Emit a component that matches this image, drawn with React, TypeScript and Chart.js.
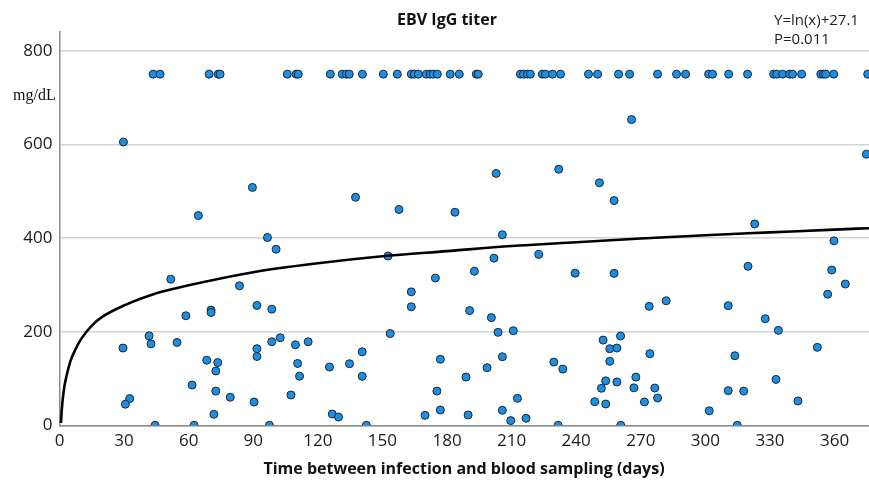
import { useEffect, useRef } from "react";
import { Chart, registerables } from "chart.js";

Chart.register(...registerables);

const xTickValues = [0, 30, 60, 90, 120, 150, 180, 210, 240, 270, 300, 330, 360];
const yTickValues = [0, 200, 400, 600, 800];

// Samples with titer capped at 750 mg/dL (top row)
const cappedTiter = 750;
const cappedDays = [
  43.5, 46.7, 69.5, 73.7, 74.6, 105.8, 109.9, 110.9, 125.8, 131.3, 133.2, 134.6, 140.7, 150.4,
  156.9, 163.4, 164.8, 166.7, 170.4, 172.2, 173.6, 175.5, 181.5, 185.7, 193.6, 194.5, 214.1,
  215.5, 217.3, 218.7, 224.3, 225.7, 229.0, 232.7, 245.7, 249.9, 259.7, 264.8, 277.8, 286.6,
  290.8, 301.5, 303.3, 310.8, 319.6, 331.7, 333.1, 335.9, 339.1, 340.5, 344.7, 353.6, 354.9,
  355.9, 359.6, 375.4,
];

// Other samples
const sampleDays = [
  29.7, 64.5, 89.6, 137.5, 157.7, 96.6, 265.7, 202.8, 231.9, 250.8, 183.7, 257.6, 205.7, 374.8,
  322.9, 359.7, 51.7, 58.7, 70.4, 70.4, 41.6, 42.5, 54.6, 29.5, 68.4, 73.5, 72.6, 61.6, 32.6,
  30.6, 72.6, 79.3, 71.7, 44.4, 62.5, 100.6, 152.6, 174.6, 83.6, 91.7, 98.6, 163.4, 163.4,
  153.6, 102.5, 98.6, 109.6, 115.5, 91.7, 91.7, 140.6, 110.6, 125.4, 134.7, 111.5, 140.6,
  176.9, 90.4, 107.5, 175.3, 126.7, 129.6, 169.8, 176.9, 97.5, 142.5, 201.8, 222.6, 192.7,
  239.5, 257.6, 190.5, 200.6, 273.9, 203.7, 210.8, 252.5, 260.6, 255.6, 258.9, 205.7, 198.6,
  229.6, 233.8, 255.6, 274.2, 188.8, 253.7, 258.9, 267.7, 251.7, 266.8, 212.7, 248.6, 253.7,
  271.7, 189.8, 205.7, 209.6, 216.7, 231.6, 260.7, 319.8, 358.7, 365.0, 356.8, 281.8, 310.6,
  327.8, 333.9, 352.0, 313.7, 276.5, 277.8, 310.6, 317.8, 332.8, 343.0, 301.8, 314.8,
];
const sampleTiters = [
  605, 448, 508, 487, 461, 401, 653, 538, 547, 518, 455, 480, 407, 579,
  430, 394, 312, 234, 246, 241, 191, 174, 177, 165, 139, 134, 116, 86, 57,
  45, 73, 60, 23.5, 0, 0, 376, 361.5, 314.5, 298, 256, 248, 285, 253,
  196, 187, 178.5, 172, 178.5, 163.6, 147, 157, 132, 124.5, 131.5, 105, 104.6,
  141, 49.8, 64.7, 73, 24, 17.7, 21.3, 32.7, 0, 0, 357, 365, 329,
  325, 324.5, 245, 230, 254, 198.5, 202, 182, 190.7, 163.6, 165, 146.5, 123,
  135, 120, 136.6, 153, 103, 95, 92.5, 103, 79, 80, 57.6, 50.4, 45.5,
  49.8, 22, 32, 10, 15, 0, 0, 339.5, 331.6, 301.7, 280, 266, 255.5,
  227.7, 202.8, 166.5, 148.6, 79.6, 58.3, 74, 73, 98, 52, 31, 0,
];

// Fitted curve
const fitDays = [0.7, 1, 2, 3, 5, 7.5, 10, 15, 20, 30, 45, 60, 90, 120, 150, 180, 210, 240, 270, 300, 330, 360, 376];
const fitTiters = [5, 30, 75, 100, 136, 163, 184, 213, 232, 256, 282, 299, 327, 346, 361, 372, 383, 391, 399, 406, 412, 418, 421];

const titleText = "EBV IgG titer";
const xTitleText = "Time between infection and blood sampling (days)";
const unitText = "mg/dL";
const equationText = "Y=ln(x)+27.1";
const pText = "P=0.011";

const textPlugin = {
  id: "texts",
  afterDraw(chart: any) {
    const ctx = chart.ctx as CanvasRenderingContext2D;
    ctx.save();
    ctx.fillStyle = "#111";
    ctx.textBaseline = "middle";
    ctx.textAlign = "center";
    ctx.font = 'bold 16px "Open Sans"';
    ctx.fillText(titleText, 447, 20);
    ctx.fillText(xTitleText, 464, 469);
    ctx.textAlign = "left";
    ctx.font = '15px "Open Sans"';
    ctx.fillStyle = "#222";
    ctx.fillText(equationText, 774, 21);
    ctx.fillText(pText, 774, 40);
    ctx.font = '16px "Liberation Serif"';
    ctx.fillStyle = "#111";
    ctx.fillText(unitText, 13, 96);
    ctx.restore();
  },
};

export default function App() {
  const ref = useRef<HTMLCanvasElement>(null);
  useEffect(() => {
    const points = [
      ...cappedDays.map((d) => ({ x: d, y: cappedTiter })),
      ...sampleDays.map((d, i) => ({ x: d, y: sampleTiters[i] })),
    ];
    const fit = fitDays.map((d, i) => ({ x: d, y: fitTiters[i] }));
    const tickFont = { family: '"Open Sans"', size: 17 };
    const chart = new Chart(ref.current!, {
      type: "scatter",
      data: {
        datasets: [
          {
            type: "line",
            data: fit,
            borderColor: "#000",
            borderWidth: 2.6,
            pointRadius: 0,
            cubicInterpolationMode: "monotone",
            fill: false,
            order: 0,
          } as any,
          {
            data: points,
            backgroundColor: "#1c8fe3",
            borderColor: "#1a2638",
            borderWidth: 1,
            pointRadius: 4,
            clip: 0,
            order: 1,
          } as any,
        ],
      },
      options: {
        responsive: false,
        animation: false,
        layout: { autoPadding: false, padding: { top: 32, right: 0, left: 0, bottom: 0 } },
        plugins: { legend: { display: false }, tooltip: { enabled: false }, title: { display: false } },
        scales: {
          x: {
            type: "linear",
            min: 0,
            max: 376,
            afterBuildTicks: (s: any) => {
              s.ticks = xTickValues.map((v) => ({ value: v }));
            },
            afterFit: (s: any) => {
              s.height = 54.7;
              s.paddingLeft = 0;
              s.paddingRight = 0;
            },
            grid: { display: false, drawTicks: false },
            border: { color: "#8c8c8c", width: 1.5 },
            ticks: { padding: 6, font: tickFont, color: "#1a1a1a", maxRotation: 0, autoSkip: false },
          },
          y: {
            type: "linear",
            min: 0,
            max: 840,
            afterBuildTicks: (s: any) => {
              s.ticks = yTickValues.map((v) => ({ value: v }));
            },
            afterFit: (s: any) => {
              s.width = 59.5;
              s.paddingTop = 0;
              s.paddingBottom = 0;
            },
            grid: { color: "#d2d2d2", lineWidth: 1.5, drawTicks: false },
            border: { color: "#8c8c8c", width: 1.5 },
            ticks: { padding: 7, font: tickFont, color: "#1a1a1a" },
          },
        },
      } as any,
      plugins: [textPlugin],
    });
    return () => chart.destroy();
  }, []);
  return (
    <div style={{ position: "absolute", left: 0, top: 0, width: 869, height: 480, background: "#fff" }}>
      <canvas ref={ref} width={869} height={480} style={{ display: "block" }} />
    </div>
  );
}
